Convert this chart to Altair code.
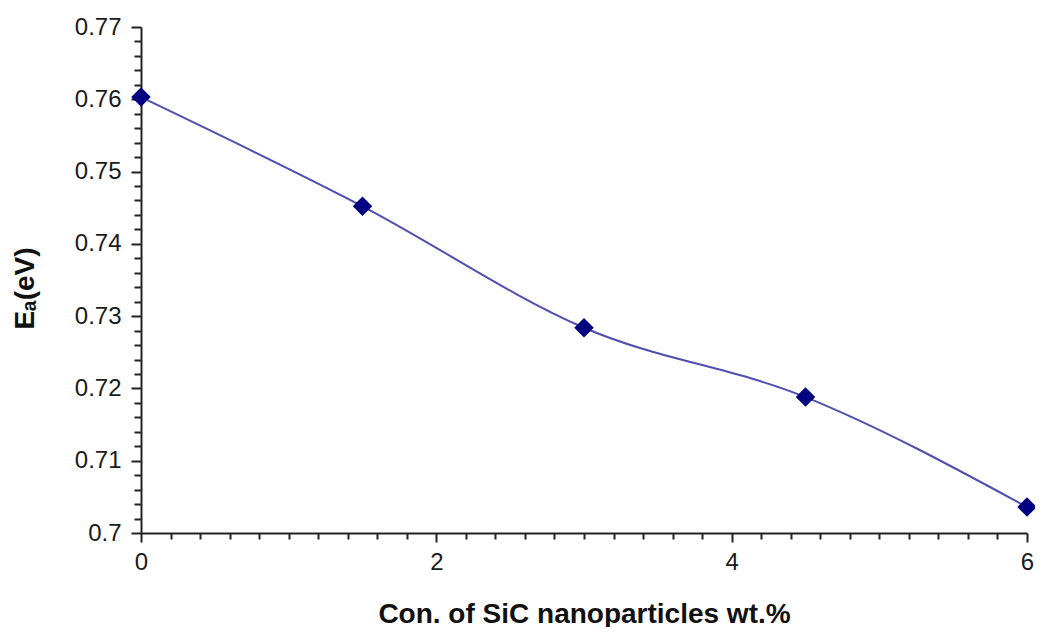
import altair as alt
import pandas as pd

# Data
conc = [0, 1.5, 3, 4.5, 6]
ea = [0.7603, 0.7452, 0.7284, 0.7188, 0.7036]

# Axis tick positions (major + minor)
x_ticks = [round(i * 0.2, 1) for i in range(31)]
y_ticks = [round(0.70 + i * 0.002, 3) for i in range(36)]

df = pd.DataFrame({"conc": conc, "ea": ea})

FONT = "Liberation Sans"
x_major = "abs(datum.value/2 - round(datum.value/2)) < 1e-6"
y_major = "abs(datum.value*100 - round(datum.value*100)) < 1e-6"

x_enc = alt.X(
    "conc:Q",
    scale=alt.Scale(domain=[0, 6], nice=False, zero=False),
    axis=alt.Axis(
        values=x_ticks,
        title="Con. of SiC nanoparticles wt.%",
        labelExpr=f"{x_major} ? format(datum.value, 'd') : ''",
        tickSize={"condition": {"test": x_major, "value": 9}, "value": 6},
        labelOverlap=False,
        labelFlush=False,
        labelPadding=8,
        titleY=81,
        titleBaseline="middle",
    ),
)
y_enc = alt.Y(
    "ea:Q",
    scale=alt.Scale(domain=[0.70, 0.77], nice=False, zero=False),
    axis=alt.Axis(
        values=y_ticks,
        title="Eₐ(eV)",
        labelExpr=f"{y_major} ? format(datum.value, '.2~f') : ''",
        tickSize={"condition": {"test": y_major, "value": 10}, "value": 7},
        labelOverlap=False,
        labelFlush=False,
        labelPadding=10,
        titleX=-116,
        titleY=261,
        titleBaseline="middle",
    ),
)

base = alt.Chart(df).encode(x=x_enc, y=y_enc)
line = base.mark_line(interpolate="monotone", color="#4f4fb0", strokeWidth=2)
pts = base.mark_point(shape="diamond", filled=True, size=380, color="#000080", opacity=1)

chart = (
    alt.layer(line, pts)
    .properties(
        width=886,
        height=506,
        autosize=alt.AutoSizeParams(type="none"),
        padding={"left": 133, "top": 19, "right": 8, "bottom": 94},
    )
    .configure_view(stroke=None)
    .configure_axis(
        grid=False,
        domainColor="#222222",
        domainWidth=2,
        tickColor="#222222",
        tickWidth=2,
        labelFont=FONT,
        labelFontSize=24,
        labelColor="#1a1a1a",
        titleFont=FONT,
        titleFontSize=28,
        titleFontWeight="bold",
        titleColor="#111111",
    )
)

chart.save("out.html", embed_options={"renderer": "svg", "actions": False})
